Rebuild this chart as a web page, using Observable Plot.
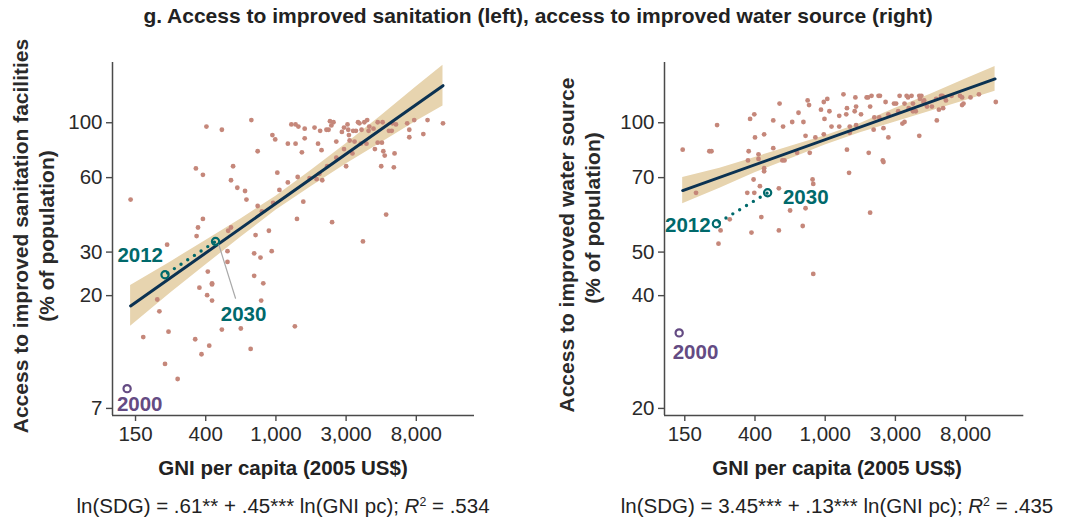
<!DOCTYPE html>
<html><head><meta charset="utf-8">
<script src="https://cdn.jsdelivr.net/npm/d3@7"></script>
<script src="https://cdn.jsdelivr.net/npm/@observablehq/plot@0.6"></script>
<style>
body{margin:0;background:#fff;}
#wrap{position:relative;width:1076px;height:521px;font-family:"Liberation Sans",Arial,sans-serif;color:#222;overflow:hidden;background:#fff}
.abs{position:absolute;white-space:nowrap;text-align:center;line-height:24px}
.ttl{font-weight:bold;font-size:21px;line-height:24px;}
.xl{font-weight:bold;font-size:20.5px;}
.eq{font-size:20.5px;}
.eq sup{font-size:60%;vertical-align:0.6em;line-height:0}
#wrap svg{position:absolute;top:0}
</style></head><body>
<div id="wrap">
  <div class="abs ttl" style="left:0;width:1076px;top:4px">g. Access to improved sanitation (left), access to improved water source (right)</div>
  <div class="abs xl" style="left:-17px;width:600px;top:456px">GNI per capita (2005 US$)</div>
  <div class="abs eq" style="left:-17px;width:600px;top:494px">ln(SDG) = .61** + .45*** ln(GNI pc); <i>R</i><sup>2</sup> = .534</div>
  <div class="abs xl" style="left:537px;width:600px;top:456px">GNI per capita (2005 US$)</div>
  <div class="abs eq" style="left:537px;width:600px;top:494px">ln(SDG) = 3.45*** + .13*** ln(GNI pc); <i>R</i><sup>2</sup> = .435</div>
</div>
<script>
// ---- axes (x = ln GNI per capita; y = ln % of population) ----
const xTicks = [5, 6, 7, 8, 9];
const xTickLabels = ["150", "400", "1,000", "3,000", "8,000"];
const sanYTickLabels = [7, 20, 30, 60, 100];
const watYTickLabels = [20, 40, 50, 70, 100];

// ---- sanitation (left): ln(GNI pc), ln(% access) ----
const sanGNI = [4.93,6.01,6.23,6.65,5.86,5.96,6.39,6.36,6.45,6.56,6.58,6.74,6.74,6.80,5.96,5.89,5.87,5.45,6.32,6.36,
6.71,6.90,6.94,6.69,6.78,6.31,6.95,6.99,7.02,7.05,6.96,7.17,7.17,7.22,7.28,7.32,7.28,7.31,7.30,7.37,
7.39,7.41,7.41,7.48,7.55,7.60,7.58,7.63,7.65,7.66,7.62,7.72,7.75,7.77,7.79,7.82,7.86,7.86,7.80,7.73,
7.94,7.97,8.02,8.04,8.05,8.00,7.97,8.09,8.10,8.14,8.12,8.17,8.19,8.22,8.26,8.30,8.33,8.39,8.32,8.29,
8.24,8.45,8.45,8.52,8.51,8.41,8.53,8.55,8.50,8.57,8.61,8.65,8.66,8.69,8.68,8.87,8.90,8.90,8.97,9.10,
9.16,9.38,8.03,8.21,8.71,6.03,6.31,6.09,6.09,5.91,6.02,6.09,6.69,6.82,6.79,5.31,5.34,5.47,5.11,6.23,
6.50,7.27,5.85,6.05,5.94,6.64,5.42,5.60];
const sanSDG = [3.89,4.57,4.54,4.63,4.18,4.12,4.20,4.07,4.00,3.97,3.89,4.34,3.83,3.78,3.71,3.63,3.55,3.47,3.60,3.63,
3.56,3.60,3.41,3.39,3.35,3.41,4.49,4.45,4.14,3.98,3.86,4.41,4.05,4.59,4.59,4.57,4.41,4.10,3.71,4.33,
3.87,4.55,4.46,4.09,4.56,4.41,4.08,4.53,4.35,4.07,4.13,4.54,4.54,4.62,4.58,4.61,4.43,4.28,3.68,4.20,
4.52,4.56,4.59,4.49,4.44,4.20,4.36,4.32,4.53,4.53,4.43,4.61,4.60,4.54,4.61,4.63,4.57,4.55,4.53,4.41,
3.50,4.61,4.42,4.61,4.42,4.36,4.34,4.30,4.20,3.75,4.53,4.53,4.60,4.32,4.19,4.60,4.54,4.47,4.63,4.50,
4.63,4.60,4.54,4.41,4.59,3.22,3.31,3.11,3.10,3.07,3.00,2.95,3.18,3.11,2.95,2.96,2.85,2.66,2.61,2.68,
2.69,2.71,2.59,2.53,2.45,2.50,2.36,2.22];
const sanYears = ["2000", "2012", "2030"];
const sanYearGNI = [4.88, 5.42, 6.14];
const sanYearSDG = [2.13, 3.19, 3.50];
const sanFitGNI = [4.93, 9.38];
const sanFitSDG = [2.90, 4.95];
const sanBandGNI = [4.93, 5.5, 6, 6.5, 7, 7.5, 8, 8.5, 9, 9.38];
const sanBandLo = [2.71, 3.02, 3.28, 3.54, 3.79, 4.01, 4.22, 4.42, 4.62, 4.76];
const sanBandHi = [3.09, 3.31, 3.51, 3.71, 3.92, 4.16, 4.41, 4.67, 4.94, 5.14];

// ---- water (right): ln(GNI pc), ln(% access) ----
const watGNI = [4.97,5.16,5.35,5.38,5.46,5.51,5.48,5.64,5.89,5.90,5.91,5.93,5.99,6.00,5.98,5.99,5.95,6.05,6.05,6.07,
6.09,6.13,6.13,6.13,6.26,6.26,6.35,6.34,6.34,6.39,6.42,6.40,6.50,6.53,6.60,6.62,6.69,6.72,6.72,6.68,
6.75,6.77,6.78,6.82,6.83,6.86,6.94,6.98,6.99,6.98,7.03,7.06,7.09,7.20,7.20,7.26,7.31,7.31,7.34,7.30,
7.35,7.35,7.42,7.43,7.44,7.44,7.51,7.59,7.61,7.64,7.62,7.64,7.66,7.70,7.69,7.77,7.76,7.78,7.83,7.82,
7.83,7.86,7.90,7.90,7.98,8.01,8.04,8.06,8.10,8.13,8.13,8.16,8.18,8.19,8.23,8.25,8.25,8.29,8.34,8.37,
8.35,8.34,8.40,8.41,8.45,8.52,8.58,8.59,8.62,8.65,8.67,8.68,8.70,8.72,8.80,8.92,8.95,8.95,8.97,9.07,
9.19,9.43,6.83];
const watSDG = [4.43,4.18,4.42,4.42,4.59,4.01,3.95,4.06,4.18,4.36,4.42,4.63,4.66,4.51,4.24,4.18,4.00,4.37,4.40,4.21,
4.07,4.53,4.31,4.29,4.62,4.44,4.73,4.20,4.01,4.36,4.36,4.58,4.10,4.61,4.41,4.67,4.61,4.52,4.11,4.03,
4.75,4.72,4.41,4.24,4.22,4.51,4.69,4.53,4.63,4.74,4.76,4.68,4.58,4.65,4.58,4.79,4.70,4.43,4.28,4.66,
4.58,4.54,4.68,4.77,4.71,4.59,4.66,4.77,4.77,4.71,4.41,4.09,4.78,4.64,4.56,4.64,4.78,4.78,4.57,4.36,
4.35,4.74,4.66,4.51,4.73,4.73,4.68,4.78,4.60,4.61,4.73,4.78,4.77,4.70,4.78,4.73,4.68,4.68,4.78,4.78,
4.76,4.52,4.74,4.75,4.71,4.71,4.76,4.62,4.69,4.78,4.78,4.70,4.77,4.75,4.78,4.78,4.77,4.72,4.73,4.77,
4.79,4.74,3.80];
const watYears = ["2000", "2012", "2030"];
const watYearGNI = [4.92, 5.45, 6.18];
const watYearSDG = [3.46, 4.04, 4.18];
const watFitGNI = [4.97, 9.42];
const watFitSDG = [4.19, 4.89];
const watBandGNI = [4.97, 5.5, 6, 6.5, 7, 7.5, 8, 8.5, 9, 9.42];
const watBandLo = [4.13, 4.20, 4.28, 4.37, 4.46, 4.54, 4.61, 4.68, 4.75, 4.81];
const watBandHi = [4.25, 4.31, 4.38, 4.45, 4.52, 4.60, 4.70, 4.79, 4.89, 4.97];

// ---- styling ----
const FONT = "'Liberation Sans', Arial, Helvetica, sans-serif";
const C = {dot: "#c5877a", band: "#e7d4af", fit: "#0b3252", teal: "#00696b", purple: "#644b83", axis: "#4a4a4a", text: "#2a2a2a"};
const W = 538, H = 521, MT = 62, MB = 106;

function panel(cfg) {
  const pts = cfg.gni.map((x, i) => ({x, y: cfg.sdg[i]}));
  const fit = cfg.fitX.map((x, i) => ({x, y: cfg.fitY[i]}));
  const band = cfg.bandX.map((x, i) => ({x, lo: cfg.bandLo[i], hi: cfg.bandHi[i]}));
  const yrs = cfg.years.map((t, i) => ({t, x: cfg.yearX[i], y: cfg.yearY[i]}));
  const path = yrs.filter(d => d.t !== "2000");
  const yTicks = cfg.yTickLabels.map(Math.log);
  const marks = [
    Plot.areaY(band, {x: "x", y1: "lo", y2: "hi", fill: C.band}),
    Plot.dot(pts, {x: "x", y: "y", r: 2.4, fill: C.dot}),
    Plot.line(fit, {x: "x", y: "y", stroke: C.fit, strokeWidth: 3}),
    Plot.line(path, {x: "x", y: "y", stroke: C.teal, strokeWidth: 3.4, strokeLinecap: "round", strokeDasharray: "0 8", strokeDashoffset: 4.8}),
    Plot.dot(yrs, {x: "x", y: "y", r: 3.6, fill: "none", strokeWidth: 2.2, stroke: d => d.t === "2000" ? C.purple : C.teal})
  ];
  for (const d of yrs) {
    const s = cfg.labelStyle[d.t];
    marks.push(Plot.text([d], {x: "x", y: "y", text: "t", dx: s.dx, dy: s.dy, textAnchor: s.anchor, lineAnchor: "middle",
      fontSize: 20.5, fontWeight: "bold", fill: d.t === "2000" ? C.purple : C.teal}));
    if (s.connector) {
      const k = s.connector;
      marks.push(Plot.vector([d], {x: "x", y: "y", length: k.length, rotate: k.rotate, anchor: "start", dx: k.dx, dy: k.dy,
        stroke: "#a9a9a9", strokeWidth: 1.2, shape: {draw(ctx, l) { ctx.moveTo(0, 0); ctx.lineTo(0, -l); }}}));
    }
  }
  marks.push(
    // axis lines along the left and bottom edges of the frame
    Plot.ruleX([cfg.xDomain[0]], {stroke: C.axis, strokeWidth: 1.5}),
    Plot.ruleY([cfg.yBottom], {stroke: C.axis, strokeWidth: 1.5}),
    Plot.axisX({ticks: xTicks, tickFormat: d => xTickLabels[xTicks.indexOf(d)], tickSize: 6, tickPadding: 5,
      fontSize: 20.5, stroke: C.axis, fill: C.text, strokeWidth: 1.4, label: null}),
    Plot.axisY({ticks: yTicks, tickFormat: d => String(cfg.yTickLabels[yTicks.indexOf(d)]), tickSize: 6, tickPadding: 4,
      fontSize: 20.5, stroke: C.axis, fill: C.text, strokeWidth: 1.4, label: null}),
    Plot.text([cfg.yLabel[0]], {frameAnchor: "left", rotate: -90, dx: cfg.yLabelPos[0][0], dy: cfg.yLabelPos[0][1],
      textAnchor: "middle", lineAnchor: "middle", fontSize: 21, fontWeight: "bold", fill: C.text}),
    Plot.text([cfg.yLabel[1]], {frameAnchor: "left", rotate: -90, dx: cfg.yLabelPos[1][0], dy: cfg.yLabelPos[1][1],
      textAnchor: "middle", lineAnchor: "middle", fontSize: 21, fontWeight: "bold", fill: C.text})
  );
  const svg = Plot.plot({
    width: W, height: H, marginTop: MT, marginBottom: MB, marginLeft: cfg.marginLeft, marginRight: cfg.marginRight,
    x: {type: "linear", domain: cfg.xDomain},
    y: cfg.y,
    style: {fontFamily: FONT, fontSize: "20px", background: "transparent", overflow: "visible"},
    marks
  });
  svg.style.left = cfg.left + "px";
  return svg;
}

const wrap = document.getElementById("wrap");
const sanYDomain = [1.880, 5.166];
const left = panel({
  left: 0, marginLeft: 112, marginRight: 64, xDomain: [4.672, 9.829],
  y: {type: "linear", domain: sanYDomain}, yBottom: sanYDomain[0],
  gni: sanGNI, sdg: sanSDG, fitX: sanFitGNI, fitY: sanFitSDG,
  bandX: sanBandGNI, bandLo: sanBandLo, bandHi: sanBandHi,
  years: sanYears, yearX: sanYearGNI, yearY: sanYearSDG,
  yTickLabels: sanYTickLabels,
  yLabel: ["Access to improved sanitation facilities", "(% of population)"],
  yLabelPos: [[-91, -3], [-65, -3]],
  labelStyle: {
    "2000": {dx: 12.6, dy: 15.6, anchor: "middle"},
    "2012": {dx: -2, dy: -19, anchor: "end"},
    "2030": {dx: 28, dy: 72.6, anchor: "middle", connector: {length: 56, rotate: 162.7, dx: 3.3, dy: 3.3}}
  }
});
wrap.appendChild(left);

// right panel shares the left panel's tick positions, with its own tick labels (piecewise scale)
const ly = left.scale("y");
const watRange = sanYTickLabels.map(v => ly.apply(Math.log(v)));
const watDomain = watYTickLabels.map(Math.log);
const watBottom = d3.scaleLinear().domain(watRange).range(watDomain)(ly.apply(sanYDomain[0]));
const right = panel({
  left: 538, marginLeft: 126, marginRight: 52.7, xDomain: [4.711, 9.829],
  y: {type: "linear", domain: watDomain, range: watRange}, yBottom: watBottom,
  gni: watGNI, sdg: watSDG, fitX: watFitGNI, fitY: watFitSDG,
  bandX: watBandGNI, bandLo: watBandLo, bandHi: watBandHi,
  years: watYears, yearX: watYearGNI, yearY: watYearSDG,
  yTickLabels: watYTickLabels,
  yLabel: ["Access to improved water source", "(% of population)"],
  yLabelPos: [[-97, 6], [-71, -21]],
  labelStyle: {
    "2000": {dx: 16.3, dy: 20, anchor: "middle"},
    "2012": {dx: -5.7, dy: 1.7, anchor: "end"},
    "2030": {dx: 15.3, dy: 5, anchor: "start"}
  }
});
wrap.appendChild(right);
</script>
</body></html>
